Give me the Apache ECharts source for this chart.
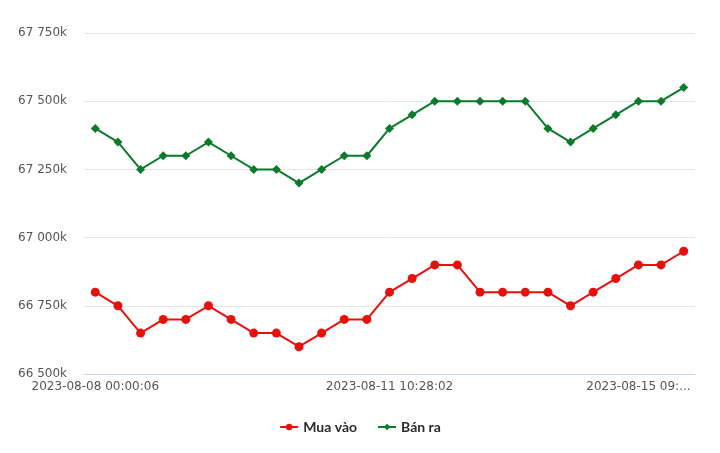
<!DOCTYPE html>
<html>
<head>
<meta charset="utf-8">
<script src="https://cdn.jsdelivr.net/npm/echarts@6/dist/echarts.min.js"></script>
<style>
html,body{margin:0;padding:0;background:#fff;}
#chart{width:720px;height:453px;}
</style>
</head>
<body>
<div id="chart"></div>
<script>
const categories = [
  "2023-08-08 00:00:06","2023-08-08 08:30:15","2023-08-08 14:05:40","2023-08-09 08:25:11",
  "2023-08-09 13:45:02","2023-08-09 16:20:33","2023-08-10 08:30:07","2023-08-10 10:15:44",
  "2023-08-10 14:00:21","2023-08-10 16:35:09","2023-08-11 08:20:55","2023-08-11 09:10:30",
  "2023-08-11 09:45:18","2023-08-11 10:28:02","2023-08-11 14:30:49","2023-08-12 08:25:36",
  "2023-08-12 14:10:12","2023-08-13 08:40:27","2023-08-14 08:15:03","2023-08-14 10:50:41",
  "2023-08-14 14:20:58","2023-08-14 16:05:19","2023-08-15 08:10:45","2023-08-15 08:45:22",
  "2023-08-15 09:30:14","2023-08-15 14:15:37","2023-08-16 08:20:09"
];
// values in thousands (k)
const muaVao = [66800,66750,66650,66700,66700,66750,66700,66650,66650,66600,66650,66700,66700,66800,66850,66900,66900,66800,66800,66800,66800,66750,66800,66850,66900,66900,66950];
const banRa = [67400,67350,67250,67300,67300,67350,67300,67250,67250,67200,67250,67300,67300,67400,67450,67500,67500,67500,67500,67500,67400,67350,67400,67450,67500,67500,67550];
const seriesNames = ["Mua vào","Bán ra"];
const labelIndices = [0,13,24];
const yMin = 66500, yMax = 67750, yStep = 250;

function fmtK(v){
  const s = String(Math.round(v));
  return s.replace(/\B(?=(\d{3})+(?!\d))/g, ' ') + 'k';
}

const chart = echarts.init(document.getElementById('chart'));
chart.setOption({
  animation: false,
  textStyle: { fontFamily: 'DejaVu Sans' },
  grid: { left: 84, right: 25, top: 33, bottom: 79, containLabel: false },
  legend: {
    bottom: 14,
    left: 'center',
    itemWidth: 18,
    itemHeight: 8,
    itemGap: 20,
    textStyle: { color: '#2a2a2a', fontSize: 14, fontWeight: 'bold', fontFamily: 'Lato' },
    data: seriesNames
  },
  xAxis: {
    type: 'category',
    data: categories,
    boundaryGap: true,
    axisLine: { lineStyle: { color: '#ccd6eb', width: 1 } },
    axisTick: { show: false },
    axisLabel: {
      color: '#555',
      fontSize: 12,
      fontFamily: 'DejaVu Sans',
      margin: 7,
      interval: (i) => labelIndices.indexOf(i) >= 0,
      formatter: (v, i) => i === 24 ? v.slice(0, 14) + '...' : v
    },
    splitLine: { show: false }
  },
  yAxis: {
    type: 'value',
    min: yMin, max: yMax, interval: yStep,
    axisLine: { show: false },
    axisTick: { show: false },
    axisLabel: { color: '#555', fontSize: 12, fontFamily: 'DejaVu Sans', margin: 17, formatter: fmtK },
    splitLine: { lineStyle: { color: '#e6e6e6', width: 1 } }
  },
  series: [
    {
      name: seriesNames[0], type: 'line', data: muaVao,
      symbol: 'circle', symbolSize: 9,
      lineStyle: { color: '#e8100c', width: 2 },
      itemStyle: { color: '#e8100c' }
    },
    {
      name: seriesNames[1], type: 'line', data: banRa,
      symbol: 'diamond', symbolSize: 9,
      lineStyle: { color: '#0b7a2a', width: 2 },
      itemStyle: { color: '#0b7a2a' }
    }
  ]
});
</script>
</body>
</html>
